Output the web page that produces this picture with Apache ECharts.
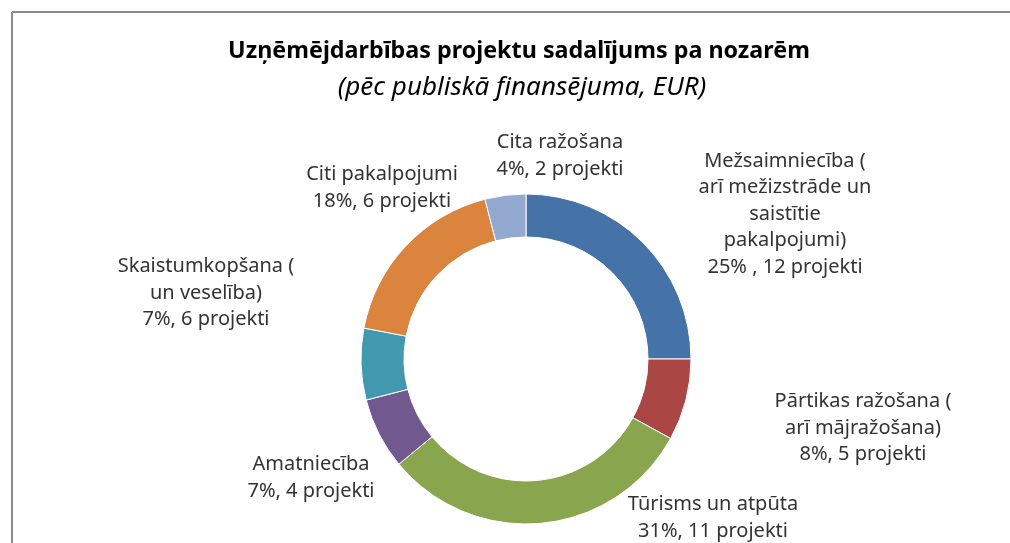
<!DOCTYPE html>
<html>
<head>
<meta charset="utf-8">
<script src="https://cdn.jsdelivr.net/npm/echarts@6/dist/echarts.min.js"></script>
<style>
html,body{margin:0;padding:0;background:#fff;}
#chart{width:1010px;height:543px;}
</style>
</head>
<body>
<div id="chart"></div>
<script>
// ---- data ----
const categories = [
  "Mežsaimniecība (\narī mežizstrāde un\nsaistītie\npakalpojumi)",
  "Pārtikas ražošana (\narī mājražošana)",
  "Tūrisms un atpūta",
  "Amatniecība",
  "Skaistumkopšana (\nun veselība)",
  "Citi pakalpojumi",
  "Cita ražošana"
];
const shares = [25, 8, 31, 7, 7, 18, 4];
const projects = [12, 5, 11, 4, 6, 6, 2];
const percentSep = [" , ", ", ", ", ", ", ", ", ", ", ", ", "];
const titleText = "Uzņēmējdarbības projektu sadalījums pa nozarēm";
const subtitleText = "(pēc publiskā finansējuma, EUR)";

// ---- styling / layout (not data) ----
const colors = ["#4572A7", "#AA4643", "#89A54E", "#71588F", "#4198AF", "#DB843D", "#93A9CF"];
const labelPos = [[785, 214], [863, 428], [713, 518], [311, 478], [206, 293], [382, 188], [560, 156]];

const chart = echarts.init(document.getElementById('chart'));
const FONT = "'Noto Sans', 'DejaVu Sans', sans-serif";

chart.setOption({
  animation: false,
  color: colors,
  title: [
    { text: titleText, left: 514, top: 35, textAlign: 'center',
      textStyle: { fontFamily: FONT, fontSize: 23.3, fontWeight: 'bold', color: '#000' } },
    { text: subtitleText, left: 517, top: 70, textAlign: 'center',
      textStyle: { fontFamily: FONT, fontSize: 26, fontWeight: 'normal', fontStyle: 'italic', color: '#000' } }
  ],
  graphic: [
    { type: 'line', shape: { x1: 12, y1: 12, x2: 1010, y2: 12 }, style: { stroke: '#8a8a8a', lineWidth: 2 } },
    { type: 'line', shape: { x1: 12, y1: 12, x2: 12, y2: 543 }, style: { stroke: '#8a8a8a', lineWidth: 2 } }
  ],
  series: [{
    type: 'pie',
    center: [526, 359],
    radius: [122, 165],
    startAngle: 90,
    clockwise: true,
    avoidLabelOverlap: false,
    itemStyle: { borderColor: '#ffffff', borderWidth: 1 },
    label: {
      show: true,
      position: 'outside',
      fontFamily: FONT,
      fontSize: 20,
      lineHeight: 26.5,
      color: '#333333',
      align: 'center',
      formatter: function (p) {
        const i = p.dataIndex;
        return categories[i] + "\n" + shares[i] + "%" + percentSep[i] + projects[i] + " projekti";
      }
    },
    labelLine: { show: false },
    labelLayout: function (params) {
      const pos = labelPos[params.dataIndex];
      return { x: pos[0], y: pos[1], align: 'center', verticalAlign: 'middle' };
    },
    emphasis: { disabled: true },
    data: categories.map(function (c, i) { return { name: c, value: shares[i] }; })
  }]
});
</script>
</body>
</html>
